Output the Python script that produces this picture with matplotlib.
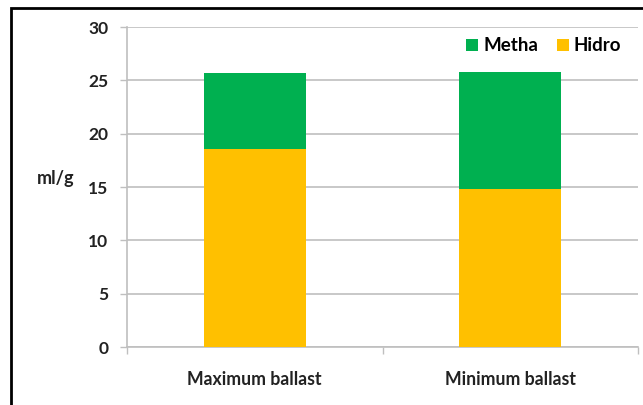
import matplotlib
matplotlib.use('Agg')
import matplotlib.pyplot as plt
from matplotlib.patches import Rectangle

categories = ['Maximum ballast', 'Minimum ballast']
hidro = [18.6, 14.8]
metha = [7.1, 11.0]
yticks = [0, 5, 10, 15, 20, 25, 30]

green = '#00B050'
yellow = '#FFC000'
grid_col = '#BFBFBF'

plt.rcParams['font.family'] = ['Lato', 'DejaVu Sans']

fig = plt.figure(figsize=(6.43, 4.05), dpi=100)
ax = fig.add_axes([127 / 643, 1 - 347 / 405, 511 / 643, 320 / 405])

x = list(range(len(categories)))
ax.bar(x, hidro, width=0.4, color=yellow, label='Hidro', zorder=3)
ax.bar(x, metha, width=0.4, bottom=hidro, color=green, label='Metha', zorder=3)

ax.set_xlim(-0.5, 1.5)
ax.set_ylim(0, 30)
ax.set_yticks(yticks)
ax.set_yticklabels([str(v) for v in yticks], fontsize=12.5, fontweight='bold', color='#222222')
ax.yaxis.grid(True, color=grid_col, linewidth=1.2, zorder=0)
ax.set_axisbelow(True)

ax.set_xticks(x)
ax.set_xticklabels(categories, fontsize=12.7, fontweight='bold', color='#222222')
ax.set_xticks([-0.5, 0.5, 1.5], minor=True)
ax.tick_params(axis='x', which='major', length=0, pad=17)
ax.tick_params(axis='x', which='minor', length=5, color=grid_col, width=1)
ax.tick_params(axis='y', length=5, color=grid_col, width=1, pad=8.5)

for s in ['top', 'right']:
    ax.spines[s].set_visible(False)
for s in ['left', 'bottom']:
    ax.spines[s].set_color(grid_col)
    ax.spines[s].set_linewidth(1.2)

ax.set_ylabel('ml/g', rotation=0, fontsize=13, fontweight='bold', color='#222222')
ax.yaxis.set_label_coords(-0.139, 0.5)

handles, labels = ax.get_legend_handles_labels()
ax.legend(handles[::-1], labels[::-1], loc='upper right', bbox_to_anchor=(1.0, 1.02),
          ncol=2, frameon=False, handlelength=0.65, handleheight=0.65, handletextpad=0.25,
          columnspacing=1.0, prop={'size': 13.5, 'weight': 'bold'})

# black frame around the chart area
fig.patches.append(Rectangle((11 / 643, -0.2), 1.5, 1.2 - 7.5 / 405,
                             transform=fig.transFigure, fill=False,
                             edgecolor='black', linewidth=2))

fig.savefig('out.png', dpi=100)
